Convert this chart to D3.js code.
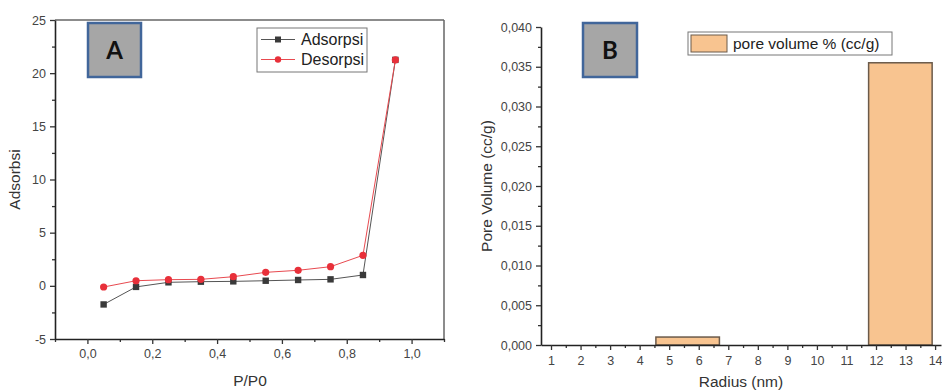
<!DOCTYPE html>
<html>
<head>
<meta charset="utf-8">
<script src="https://cdn.jsdelivr.net/npm/d3@7"></script>
<style>
  html, body { margin: 0; padding: 0; background: #fff; }
  svg { display: block; font-family: "Liberation Sans", Arial, sans-serif; }
</style>
</head>
<body>
<svg id="chart" width="942" height="392"></svg>
<script>
// ---- Panel A data (isotherm) ----
const relPressure = [0.05, 0.15, 0.25, 0.35, 0.45, 0.55, 0.65, 0.75, 0.85, 0.95];
const adsorpsi    = [-1.75, -0.1, 0.33, 0.39, 0.42, 0.48, 0.55, 0.61, 1.02, 21.25];
const desorpsi    = [-0.11, 0.48, 0.58, 0.61, 0.86, 1.27, 1.46, 1.80, 2.87, 21.25];
const aXTicks = [0.0, 0.2, 0.4, 0.6, 0.8, 1.0];
const aYTicks = [-5, 0, 5, 10, 15, 20, 25];
const aSeriesNames = ["Adsorpsi", "Desorpsi"];

// ---- Panel B data (pore size distribution) ----
const binStart = [4.55, 11.75];
const binEnd   = [6.70, 13.90];
const poreVolume = [0.001, 0.0355];
const bXTicks = [1,2,3,4,5,6,7,8,9,10,11,12,13,14];
const bYTicks = [0, 0.005, 0.010, 0.015, 0.020, 0.025, 0.030, 0.035, 0.040];
const bSeriesName = "pore volume % (cc/g)";

const svg = d3.select("#chart");
const tickColor = "#444";
const tickFont = 12.5;
const fmtComma = (d, digits) => d.toFixed(digits).replace(".", ",");

// ================= Panel A =================
const ax = d3.scaleLinear().domain([-0.1, 1.1]).range([55, 444]);
const ay = d3.scaleLinear().domain([-5, 25]).range([339, 20]);
const gA = svg.append("g");

// frame top/right
gA.append("line").attr("x1", ax(-0.1)).attr("x2", ax(1.1)).attr("y1", ay(25)).attr("y2", ay(25))
  .attr("stroke", "#666").attr("stroke-width", 1.5);
gA.append("line").attr("x1", ax(1.1)).attr("x2", ax(1.1)).attr("y1", ay(25)).attr("y2", ay(-5))
  .attr("stroke", "#666").attr("stroke-width", 1.5);

// minor ticks
const aXMinor = d3.range(-0.1, 1.1001, 0.1).filter(v => !aXTicks.some(t => Math.abs(t - v) < 1e-6));
gA.append("g").attr("transform", `translate(0,${ay(-5)})`)
  .call(d3.axisBottom(ax).tickValues(aXMinor).tickSize(3).tickFormat(""))
  .call(g => g.select(".domain").remove())
  .call(g => g.selectAll("line").attr("stroke", "#333").attr("stroke-width", 1.3));
const aYMinor = d3.range(-2.5, 25, 5);
gA.append("g").attr("transform", `translate(${ax(-0.1)},0)`)
  .call(d3.axisLeft(ay).tickValues(aYMinor).tickSize(3).tickFormat(""))
  .call(g => g.select(".domain").remove())
  .call(g => g.selectAll("line").attr("stroke", "#333").attr("stroke-width", 1.3));

// major axes
gA.append("g").attr("transform", `translate(0,${ay(-5)})`)
  .call(d3.axisBottom(ax).tickValues(aXTicks).tickSize(5).tickSizeOuter(0).tickPadding(5).tickFormat(d => fmtComma(d, 1)))
  .call(g => g.select(".domain").attr("stroke", "#222").attr("stroke-width", 1.6))
  .call(g => g.selectAll(".tick line").attr("stroke", "#333").attr("stroke-width", 1.3))
  .call(g => g.selectAll("text").attr("fill", tickColor).attr("font-size", tickFont).attr("font-family", "Liberation Sans, Arial"));
gA.append("g").attr("transform", `translate(${ax(-0.1)},0)`)
  .call(d3.axisLeft(ay).tickValues(aYTicks).tickSize(5).tickSizeOuter(0).tickPadding(4).tickFormat(d => d))
  .call(g => g.select(".domain").attr("stroke", "#222").attr("stroke-width", 1.6))
  .call(g => g.selectAll(".tick line").attr("stroke", "#333").attr("stroke-width", 1.3))
  .call(g => g.selectAll("text").attr("fill", tickColor).attr("font-size", tickFont).attr("font-family", "Liberation Sans, Arial"));

// axis titles
gA.append("text").attr("x", 250).attr("y", 386).attr("text-anchor", "middle")
  .attr("font-size", 15.5).attr("fill", "#333").text("P/P0");
gA.append("text").attr("transform", `translate(20,${(ay(-5)+ay(25))/2}) rotate(-90)`)
  .attr("text-anchor", "middle").attr("font-size", 15.5).attr("fill", "#333").text("Adsorbsi");

// series
const adsColor = "#3a3a3a", adsLine = "#555";
const desColor = "#e8303a", desLine = "#e84a50";
const lineGen = vals => d3.line().x((d, i) => ax(relPressure[i])).y(d => ay(d))(vals);
gA.append("path").attr("d", lineGen(adsorpsi)).attr("fill", "none").attr("stroke", adsLine).attr("stroke-width", 1);
gA.selectAll(".ads").data(adsorpsi).join("rect")
  .attr("x", (d, i) => ax(relPressure[i]) - 3.2).attr("y", d => ay(d) - 3.2)
  .attr("width", 6.4).attr("height", 6.4).attr("fill", adsColor);
gA.append("path").attr("d", lineGen(desorpsi)).attr("fill", "none").attr("stroke", desLine).attr("stroke-width", 1);
gA.selectAll(".des").data(desorpsi).join("circle")
  .attr("cx", (d, i) => ax(relPressure[i])).attr("cy", d => ay(d))
  .attr("r", 3.6).attr("fill", desColor);

// legend A
const legA = gA.append("g");
legA.append("rect").attr("x", 257).attr("y", 28).attr("width", 110).attr("height", 44)
  .attr("fill", "#fff").attr("stroke", "#777").attr("stroke-width", 1);
[[adsColor, adsLine, "square"], [desColor, desLine, "circle"]].forEach((s, i) => {
  const yy = 39.5 + i * 20;
  legA.append("line").attr("x1", 261).attr("x2", 295).attr("y1", yy).attr("y2", yy)
    .attr("stroke", s[1]).attr("stroke-width", 1);
  if (s[2] === "square") legA.append("rect").attr("x", 275).attr("y", yy - 3).attr("width", 6).attr("height", 6).attr("fill", s[0]);
  else legA.append("circle").attr("cx", 278).attr("cy", yy).attr("r", 3.2).attr("fill", s[0]);
  legA.append("text").attr("x", 301).attr("y", yy).attr("dy", "0.36em")
    .attr("font-size", 16).attr("fill", "#222").text(aSeriesNames[i]);
});

// Panel label A
gA.append("rect").attr("x", 88).attr("y", 23).attr("width", 53).attr("height", 54)
  .attr("fill", "#a6a6a6").attr("stroke", "#41669a").attr("stroke-width", 2.5);
gA.append("text").attr("x", 114.5).attr("y", 50).attr("dy", "0.36em").attr("text-anchor", "middle")
  .attr("font-family", "Lato, 'Liberation Sans', sans-serif").attr("font-weight", "bold")
  .attr("font-size", 24).attr("fill", "#111").text("A");

// ================= Panel B =================
const bx = d3.scaleLinear().domain([0.661, 14.2]).range([541, 941]);
const by = d3.scaleLinear().domain([0, 0.04]).range([345, 27]);
const gB = svg.append("g");

// bars
gB.selectAll(".bar").data(poreVolume).join("rect")
  .attr("x", (d, i) => bx(binStart[i])).attr("y", d => by(d))
  .attr("width", (d, i) => bx(binEnd[i]) - bx(binStart[i])).attr("height", d => by(0) - by(d))
  .attr("fill", "#f8c490").attr("stroke", "#6b5a4a").attr("stroke-width", 1.5);

// minor ticks
const bXMinor = d3.range(1.5, 14.2, 1);
gB.append("g").attr("transform", `translate(0,${by(0)})`)
  .call(d3.axisBottom(bx).tickValues(bXMinor).tickSize(3).tickFormat(""))
  .call(g => g.select(".domain").remove())
  .call(g => g.selectAll("line").attr("stroke", "#333").attr("stroke-width", 1.3));
const bYMinor = d3.range(0.0025, 0.04, 0.005);
gB.append("g").attr("transform", `translate(${bx(0.661)},0)`)
  .call(d3.axisLeft(by).tickValues(bYMinor).tickSize(3).tickFormat(""))
  .call(g => g.select(".domain").remove())
  .call(g => g.selectAll("line").attr("stroke", "#333").attr("stroke-width", 1.3));

gB.append("g").attr("transform", `translate(0,${by(0)})`)
  .call(d3.axisBottom(bx).tickValues(bXTicks).tickSize(5).tickSizeOuter(0).tickPadding(6).tickFormat(d => d))
  .call(g => g.select(".domain").attr("stroke", "#222").attr("stroke-width", 1.6))
  .call(g => g.selectAll(".tick line").attr("stroke", "#333").attr("stroke-width", 1.3))
  .call(g => g.selectAll("text").attr("fill", tickColor).attr("font-size", tickFont).attr("font-family", "Liberation Sans, Arial"));
gB.append("g").attr("transform", `translate(${bx(0.661)},0)`)
  .call(d3.axisLeft(by).tickValues(bYTicks).tickSize(5).tickSizeOuter(0).tickPadding(4).tickFormat(d => fmtComma(d, 3)))
  .call(g => g.select(".domain").attr("stroke", "#222").attr("stroke-width", 1.6))
  .call(g => g.selectAll(".tick line").attr("stroke", "#333").attr("stroke-width", 1.3))
  .call(g => g.selectAll("text").attr("fill", tickColor).attr("font-size", tickFont).attr("font-family", "Liberation Sans, Arial"));

// axis titles
gB.append("text").attr("x", 741).attr("y", 387).attr("text-anchor", "middle")
  .attr("font-size", 15.5).attr("fill", "#333").text("Radius (nm)");
gB.append("text").attr("transform", `translate(492,${(by(0)+by(0.04))/2}) rotate(-90)`)
  .attr("text-anchor", "middle").attr("font-size", 15.5).attr("fill", "#333").text("Pore Volume (cc/g)");

// legend B
const legB = gB.append("g");
legB.append("rect").attr("x", 688).attr("y", 32).attr("width", 204).attr("height", 23)
  .attr("fill", "#fff").attr("stroke", "#777").attr("stroke-width", 1);
legB.append("rect").attr("x", 691).attr("y", 35).attr("width", 36).attr("height", 17)
  .attr("fill", "#f8c490").attr("stroke", "#6b5a4a").attr("stroke-width", 1);
legB.append("text").attr("x", 733).attr("y", 43.5).attr("dy", "0.36em")
  .attr("font-size", 15.5).attr("fill", "#222").text(bSeriesName);

// Panel label B
gB.append("rect").attr("x", 583).attr("y", 23).attr("width", 54).attr("height", 54)
  .attr("fill", "#a6a6a6").attr("stroke", "#41669a").attr("stroke-width", 2.5);
gB.append("text").attr("x", 610).attr("y", 50).attr("dy", "0.36em").attr("text-anchor", "middle")
  .attr("font-family", "Lato, 'Liberation Sans', sans-serif").attr("font-weight", "bold")
  .attr("font-size", 24).attr("fill", "#111").text("B");
</script>
</body>
</html>
